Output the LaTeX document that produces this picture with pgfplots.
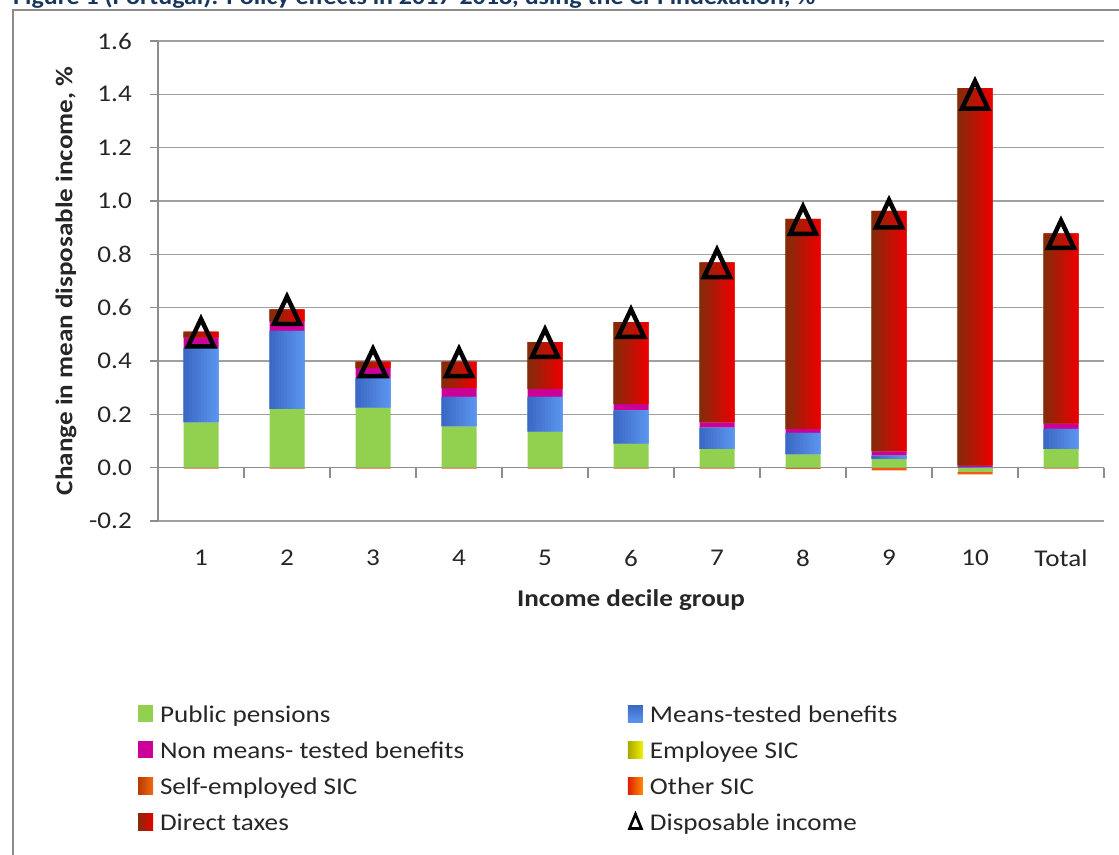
\documentclass[border=0pt]{standalone}
\usepackage{pgfplots}
\usepackage{pgfplotstable}
\pgfplotsset{compat=1.18}
\usepackage{fontspec}
\setmainfont{Carlito}[FakeStretch=1.13]
\definecolor{gridgray}{HTML}{A0A0A0}
\definecolor{axisgray}{HTML}{8C8C8C}
\definecolor{txt}{HTML}{262626}
\definecolor{pens}{HTML}{92D050}
\definecolor{mtbA}{HTML}{3A68C4}
\definecolor{mtbB}{HTML}{5A94EE}
\definecolor{mtb}{HTML}{4A82DD}
\definecolor{nmtb}{HTML}{CC0099}
\definecolor{empA}{HTML}{A8A800}
\definecolor{empB}{HTML}{F2F200}
\definecolor{seA}{HTML}{B83A00}
\definecolor{seB}{HTML}{F26A10}
\definecolor{osA}{HTML}{E02000}
\definecolor{osB}{HTML}{FF8C00}
\definecolor{osc}{HTML}{F05A14}
\definecolor{dtA}{HTML}{822C0A}
\definecolor{dtB}{HTML}{EA0000}
\definecolor{dt}{HTML}{C41A00}
\definecolor{ttl}{HTML}{17375E}

% positive parts of the stacked bars
\pgfplotstableread{
x pens mtb nmtb dt
1 0.170 0.278 0.040 0.022
2 0.220 0.293 0.035 0.046
3 0.225 0.111 0.037 0.025
4 0.155 0.110 0.033 0.100
5 0.135 0.130 0.030 0.176
6 0.090 0.125 0.023 0.308
7 0.070 0.080 0.020 0.600
8 0.050 0.080 0.015 0.788
9 0.033 0.012 0.016 0.902
10 0.000 0.002 0.006 1.415
11 0.070 0.075 0.020 0.714
}\posdata
% negative parts
\pgfplotstableread{
x pn os
1 0 -0.004
2 0 -0.004
3 0 -0.004
4 0 -0.004
5 0 -0.004
6 0 -0.004
7 0 -0.004
8 0 -0.005
9 0 -0.010
10 -0.016 -0.009
11 0 -0.004
}\negdata
% disposable income
\pgfplotstableread{
x di
1 0.506
2 0.590
3 0.394
4 0.394
5 0.467
6 0.542
7 0.766
8 0.928
9 0.952
10 1.398
11 0.875
}\didata

\pgfplotsset{
  base/.style={
    scale only axis, width=946pt, height=480pt,
    at={(158pt,333pt)}, anchor=south west,
    xmin=0.5, xmax=11.5, ymin=-0.2, ymax=1.6,
    enlargelimits=false,
    ybar stacked, bar width=35pt,
    clip=false,
  },
  legsty/.style={
    legend style={draw=none, fill=none, inner sep=0pt, outer sep=0pt,
      column sep=7pt, row sep=0pt,
      nodes={inner sep=0pt, text height=26pt, text depth=10pt, text=txt}},
    legend cell align=left,
    legend image code/.code={\fill[##1] (0pt,-8pt) rectangle (15pt,9pt);},
  },
}

% one vertical strip of the horizontal colour gradient of the bars
\newcommand\strip[2]{%
\begin{axis}[base, hide axis, bar width=3.1pt, bar shift=#1]
\addplot[draw=none, fill=none, bar width=3.1pt, bar shift=#1, forget plot] table[x=x, y=pens] \posdata;
\addplot[draw=none, fill=mtbA!#2!mtbB, bar width=3.1pt, bar shift=#1, forget plot] table[x=x, y=mtb] \posdata;
\addplot[draw=none, fill=none, bar width=3.1pt, bar shift=#1, forget plot] table[x=x, y=nmtb] \posdata;
\addplot[draw=none, fill=dtA!#2!dtB, bar width=3.1pt, bar shift=#1, forget plot] table[x=x, y=dt] \posdata;
\end{axis}}

\begin{document}
\fontsize{24}{28}\selectfont
\begin{tikzpicture}
% frame and cut title
\draw[axisgray, line width=1.5pt] (13pt,-20pt) -- (13pt,844pt) -- (1140pt,844pt);
\node[anchor=base west, inner sep=0pt, text=ttl] at (13pt,849pt)
  {\resizebox{802pt}{!}{\bfseries Figure 1 (Portugal): Policy effects in 2017-2018, using the CPI indexation, \%}};

% background axis: grid, ticks, labels, negative parts
\begin{axis}[base, legsty,
  axis line style={draw=none},
  ymajorgrids, grid style={gridgray, line width=1.2pt},
  ytick={-0.2,0,0.2,0.4,0.6,0.8,1.0,1.2,1.4,1.6},
  /pgf/number format/assume math mode=true,
  yticklabel style={/pgf/number format/fixed, /pgf/number format/fixed zerofill,
    /pgf/number format/precision=1, text=txt, xshift=-10pt},
  ytick pos=left, tick align=outside, major tick length=8pt,
  ytick style={axisgray, line width=1.2pt},
  xtick={1,2,3,4,5,6,7,8,9,10,11},
  xticklabels={1,2,3,4,5,6,7,8,9,10,Total},
  xtick pos=bottom, xtick style={draw=none},
  xticklabel style={text=txt, yshift=-13pt},
  xlabel={\bfseries Income decile group},
  xlabel style={at={(axis description cs:0.5,-0.1646)}, anchor=center, text=txt},
  ylabel={\bfseries Change in mean disposable income, \%},
  ylabel style={at={(axis description cs:-0.0973,0.5)}, anchor=center, text=txt},
  legend style={at={(axis description cs:-0.02114,-0.3646)}, anchor=north west},
]
\draw[axisgray, line width=1.2pt] (axis cs:0.5,-0.2) -- (axis cs:0.5,1.6);
\draw[axisgray, line width=1.2pt] (axis cs:0.5,0) -- (axis cs:11.5,0);
\pgfplotsinvokeforeach{0.5,1.5,2.5,3.5,4.5,5.5,6.5,7.5,8.5,9.5,10.5,11.5}{
  \draw[axisgray, line width=1.2pt] (axis cs:#1,0) -- ++(0pt,-10pt);
}
\addplot[fill=pens, draw=none, forget plot] table[x=x, y=pn] \negdata;
\addplot[fill=osc, draw=none, forget plot] table[x=x, y=os] \negdata;

\addlegendimage{fill=pens, draw=none}
\addlegendentry{Public pensions}
\addlegendimage{fill=nmtb, draw=none}
\addlegendentry{Non means- tested benefits}
\addlegendimage{left color=seA, right color=seB, draw=none}
\addlegendentry{Self-employed SIC}
\addlegendimage{left color=dtA, right color=dtB, draw=none}
\addlegendentry{Direct taxes}
\end{axis}

% foreground axis: positive stacks (solid base layer)
\begin{axis}[base, legsty, hide axis,
  legend style={at={(axis description cs:0.4968,-0.3646)}, anchor=north west},
]
\addplot[fill=pens, draw=none, forget plot] table[x=x, y=pens] \posdata;
\addplot[fill=mtb, draw=none, forget plot] table[x=x, y=mtb] \posdata;
\addplot[fill=nmtb, draw=none, forget plot] table[x=x, y=nmtb] \posdata;
\addplot[fill=dt, draw=none, forget plot] table[x=x, y=dt] \posdata;

\addlegendimage{top color=mtbA, bottom color=mtbB, draw=none}
\addlegendentry{Means-tested benefits}
\addlegendimage{left color=empA, right color=empB, draw=none}
\addlegendentry{Employee SIC}
\addlegendimage{left color=osA, right color=osB, draw=none}
\addlegendentry{Other SIC}
\addlegendimage{legend image code/.code={\draw[black, line width=2.6pt, line join=miter] (1.5pt,-6.5pt) -- (13.5pt,-6.5pt) -- (7.5pt,8pt) -- cycle;}}
\addlegendentry{Disposable income}
\end{axis}

% gradient strips
\strip{-16.04pt}{100}
\strip{-13.12pt}{91}
\strip{-10.21pt}{82}
\strip{-7.29pt}{73}
\strip{-4.37pt}{64}
\strip{-1.46pt}{55}
\strip{1.46pt}{45}
\strip{4.37pt}{36}
\strip{7.29pt}{27}
\strip{10.21pt}{18}
\strip{13.12pt}{9}
\strip{16.04pt}{0}

% disposable income markers
\begin{axis}[base, hide axis]
\addplot[stack plots=false, only marks, mark=triangle, mark size=15pt, line width=4.5pt, draw=black,
  mark options={draw=black, fill=none, line width=4.5pt, line join=miter, yshift=-4.5pt, yscale=1.22},
  forget plot] table[x=x, y=di] \didata;
\end{axis}

\pgfresetboundingbox
\useasboundingbox (0,0) rectangle (1119pt,854pt);
\end{tikzpicture}
\end{document}
